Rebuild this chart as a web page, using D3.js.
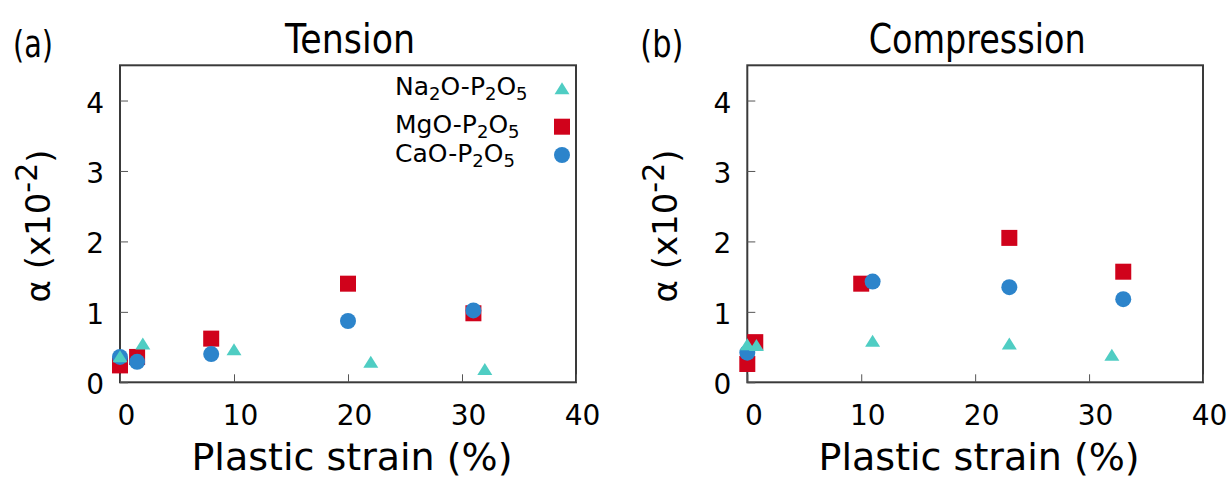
<!DOCTYPE html>
<html>
<head>
<meta charset="utf-8">
<script src="https://cdn.jsdelivr.net/npm/d3@7"></script>
<style>
  html, body { margin: 0; padding: 0; background: #fff; }
  svg { display: block; font-family: "DejaVu Sans", Verdana, sans-serif; }
</style>
</head>
<body>
<svg id="chart" width="1230" height="480"></svg>
<script>
// ---- data ----
const xTicks = [0, 10, 20, 30, 40];
const yTicks = [0, 1, 2, 3, 4];
const panelTitles = ["Tension", "Compression"];
const panelLetters = ["(a)", "(b)"];
const seriesNames = ["Na2O-P2O5", "MgO-P2O5", "CaO-P2O5"];

// Tension
const tensionNaX = [0, 2, 10, 22, 32];
const tensionNaY = [0.37, 0.55, 0.47, 0.29, 0.19];
const tensionMgX = [0, 1.5, 8, 20, 31];
const tensionMgY = [0.24, 0.36, 0.62, 1.40, 0.98];
const tensionCaX = [0, 1.5, 8, 20, 31];
const tensionCaY = [0.36, 0.29, 0.40, 0.87, 1.02];

// Compression
const compNaX = [0, 0.8, 11, 23, 32];
const compNaY = [0.54, 0.53, 0.59, 0.55, 0.39];
const compMgX = [0, 0.7, 10, 23, 33];
const compMgY = [0.26, 0.57, 1.40, 2.05, 1.57];
const compCaX = [0, 11, 23, 33];
const compCaY = [0.42, 1.43, 1.35, 1.18];

// ---- style ----
const colors = { Na: "#4fcdc3", Mg: "#d0021b", Ca: "#2c84cb" };
const frameColor = "#3a3a3a";

const svg = d3.select("#chart");

const panels = [
  { left: 120, right: 576, title: panelTitles[0], letter: panelLetters[0], legend: true,
    na: d3.zip(tensionNaX, tensionNaY), mg: d3.zip(tensionMgX, tensionMgY), ca: d3.zip(tensionCaX, tensionCaY) },
  { left: 747.3, right: 1203, title: panelTitles[1], letter: panelLetters[1], legend: false,
    na: d3.zip(compNaX, compNaY), mg: d3.zip(compMgX, compMgY), ca: d3.zip(compCaX, compCaY) }
];
const plotTop = 65.3, plotBottom = 382.3;

function drawTri(g, x, y, color) {
  const w = 15, h = 12;
  g.append("path")
    .attr("d", `M${x - w/2},${y + h/2} L${x + w/2},${y + h/2} L${x},${y - h/2} Z`)
    .attr("fill", color);
}

panels.forEach((p, i) => {
  const x = d3.scaleLinear().domain([0, 40]).range([p.left, p.right]);
  const y = d3.scaleLinear().domain([0, 4.5]).range([plotBottom, plotTop]);
  const g = svg.append("g");

  // frame
  g.append("rect")
    .attr("x", p.left).attr("y", plotTop)
    .attr("width", p.right - p.left).attr("height", plotBottom - plotTop)
    .attr("fill", "none").attr("stroke", frameColor).attr("stroke-width", 2);

  // x axis
  const xa = g.append("g").attr("transform", `translate(0,${plotBottom})`)
    .call(d3.axisBottom(x).tickValues(xTicks).tickSize(-8).tickPadding(22.5).tickFormat(d3.format("d")));
  xa.select(".domain").remove();
  xa.selectAll(".tick line").attr("stroke", "#555").attr("stroke-width", 1);
  xa.selectAll(".tick text").attr("font-size", 28).attr("fill", "#000")
    .attr("font-family", "DejaVu Sans").attr("dx", 6);

  // y axis
  const ya = g.append("g").attr("transform", `translate(${p.left},0)`)
    .call(d3.axisLeft(y).tickValues(yTicks).tickSize(-8).tickPadding(16).tickFormat(d3.format("d")));
  ya.select(".domain").remove();
  ya.selectAll(".tick line").attr("stroke", "#555").attr("stroke-width", 1);
  ya.selectAll(".tick text").attr("font-size", 28).attr("fill", "#000")
    .attr("font-family", "DejaVu Sans").attr("dy", "0.41em");

  // x label
  g.append("text")
    .attr("x", (p.left + p.right) / 2 + 4).attr("y", 470)
    .attr("text-anchor", "middle").attr("font-size", 38).text("Plastic strain (%)");

  // y label
  const yl = g.append("text")
    .attr("transform", `translate(${p.left - 70},226) rotate(-90)`)
    .attr("text-anchor", "middle").attr("font-size", 34);
  yl.append("tspan").text("α (x10");
  yl.append("tspan").attr("dy", "-0.45em").attr("font-size", 30).text("-2");
  yl.append("tspan").attr("dy", "0.45em").text(")");

  // title
  g.append("text")
    .attr("x", (p.left + p.right) / 2 + 2).attr("y", 53)
    .attr("text-anchor", "middle").attr("font-size", 40)
    .attr("textLength", i === 0 ? 130 : 217).attr("lengthAdjust", "spacingAndGlyphs")
    .text(p.title);

  // panel letter
  g.append("text")
    .attr("x", p.left - 107).attr("y", 57)
    .attr("font-size", 38)
    .attr("textLength", i === 0 ? 40 : 43).attr("lengthAdjust", "spacingAndGlyphs")
    .text(p.letter);

  // points: squares, circles, triangles (draw order)
  const pts = g.append("g");
  p.mg.forEach(([vx, vy]) => {
    pts.append("rect").attr("x", x(vx) - 8).attr("y", y(vy) - 8)
      .attr("width", 16).attr("height", 16).attr("fill", colors.Mg);
  });
  p.ca.forEach(([vx, vy]) => {
    pts.append("circle").attr("cx", x(vx)).attr("cy", y(vy)).attr("r", 8).attr("fill", colors.Ca);
  });
  p.na.forEach(([vx, vy]) => drawTri(pts, x(vx), y(vy), colors.Na));

  // legend
  if (p.legend) {
    const lx = 395, sx = 562;
    const rows = [
      { base: 95, sym: 88.3, main: ["Na", "2", "O-P", "2", "O", "5"], kind: "Na" },
      { base: 133, sym: 126.7, main: ["MgO-P", "2", "O", "5"], kind: "Mg" },
      { base: 162, sym: 155, main: ["CaO-P", "2", "O", "5"], kind: "Ca" }
    ];
    rows.forEach(r => {
      const t = g.append("text").attr("x", lx).attr("y", r.base).attr("font-size", 25);
      r.main.forEach((s, k) => {
        const isSub = /^[0-9]$/.test(s);
        const prevSub = k > 0 && /^[0-9]$/.test(r.main[k - 1]);
        const ts = t.append("tspan").text(s);
        if (isSub) ts.attr("font-size", 18).attr("dy", prevSub ? 0 : 5);
        else if (prevSub) ts.attr("dy", -5);
      });
      if (r.kind === "Na") drawTri(g, sx, r.sym, colors.Na);
      if (r.kind === "Mg") g.append("rect").attr("x", sx - 8).attr("y", r.sym - 8)
        .attr("width", 16).attr("height", 16).attr("fill", colors.Mg);
      if (r.kind === "Ca") g.append("circle").attr("cx", sx).attr("cy", r.sym).attr("r", 8).attr("fill", colors.Ca);
    });
  }
});
</script>
</body>
</html>
